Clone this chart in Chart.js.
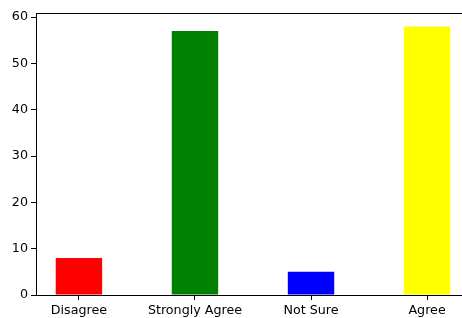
<!DOCTYPE html>
<html>
<head>
<meta charset="utf-8">
<script src="https://cdn.jsdelivr.net/npm/chart.js@4/dist/chart.umd.min.js"></script>
<style>
  body { margin:0; overflow:hidden; background:#fff; }
  #wrap { position:absolute; left:0; top:0; width:480px; height:318px; }
</style>
</head>
<body>
<div id="wrap"><canvas id="myChart" width="480" height="318"></canvas></div>
<script>
// data
var labels = ["Disagree", "Strongly Agree", "Not Sure", "Agree"]
var values = [8, 57, 5, 58]
var colors = ["#ff0000", "#008000", "#0000ff", "#ffff00"]
var yTicks = [0, 10, 20, 30, 40, 50, 60]

var points = []
for (var i = 0; i < values.length; i++) {
    points.push({x: i, y: values[i]})
}

// top spine like matplotlib
var topLine = {
    id: 'topLine',
    afterDraw: function(chart) {
        var a = chart.chartArea
        var c = chart.ctx
        c.save()
        c.strokeStyle = '#000'
        c.lineWidth = 1
        c.beginPath()
        c.moveTo(a.left, a.top + 0.5)
        c.lineTo(a.right, a.top + 0.5)
        c.stroke()
        c.restore()
    }
}

var ctx = document.getElementById('myChart').getContext("2d")
var chart1 = new Chart(ctx, {
    type: 'bar',
    plugins: [topLine],
    data: {
        datasets: [{
            data: points,
            backgroundColor: colors,
            borderWidth: 0,
            barPercentage: 0.4,
            categoryPercentage: 1
        }]
    },
    options: {
        responsive: false,
        animation: false,
        layout: { padding: { top: 13, right: 10, left: 0, bottom: 0 } },
        plugins: {
            legend: { display: false },
            tooltip: { enabled: false }
        },
        scales: {
            x: {
                type: 'linear',
                offset: false,
                min: -0.37,
                max: 3.37,
                afterBuildTicks: function(s) {
                    s.ticks = labels.map(function(l, i) { return {value: i} })
                },
                afterFit: function(s) { s.height = 23 },
                grid: { drawOnChartArea: false, tickLength: 5, color: '#000', offset: false },
                border: { color: '#000', width: 1 },
                ticks: {
                    color: '#000',
                    padding: 3,
                    maxRotation: 0,
                    autoSkip: false,
                    font: { family: 'DejaVu Sans', size: 12.7 },
                    callback: function(v) { return labels[v] }
                }
            },
            y: {
                min: 0,
                max: 60.9,
                afterBuildTicks: function(s) {
                    s.ticks = yTicks.map(function(v) { return {value: v} })
                },
                afterFit: function(s) { s.width = 36 },
                grid: { drawOnChartArea: false, tickLength: 5, color: '#000' },
                border: { color: '#000', width: 1 },
                ticks: {
                    color: '#000',
                    padding: 3,
                    font: { family: 'DejaVu Sans', size: 12.7 }
                }
            }
        }
    }
})
</script>
</body>
</html>
